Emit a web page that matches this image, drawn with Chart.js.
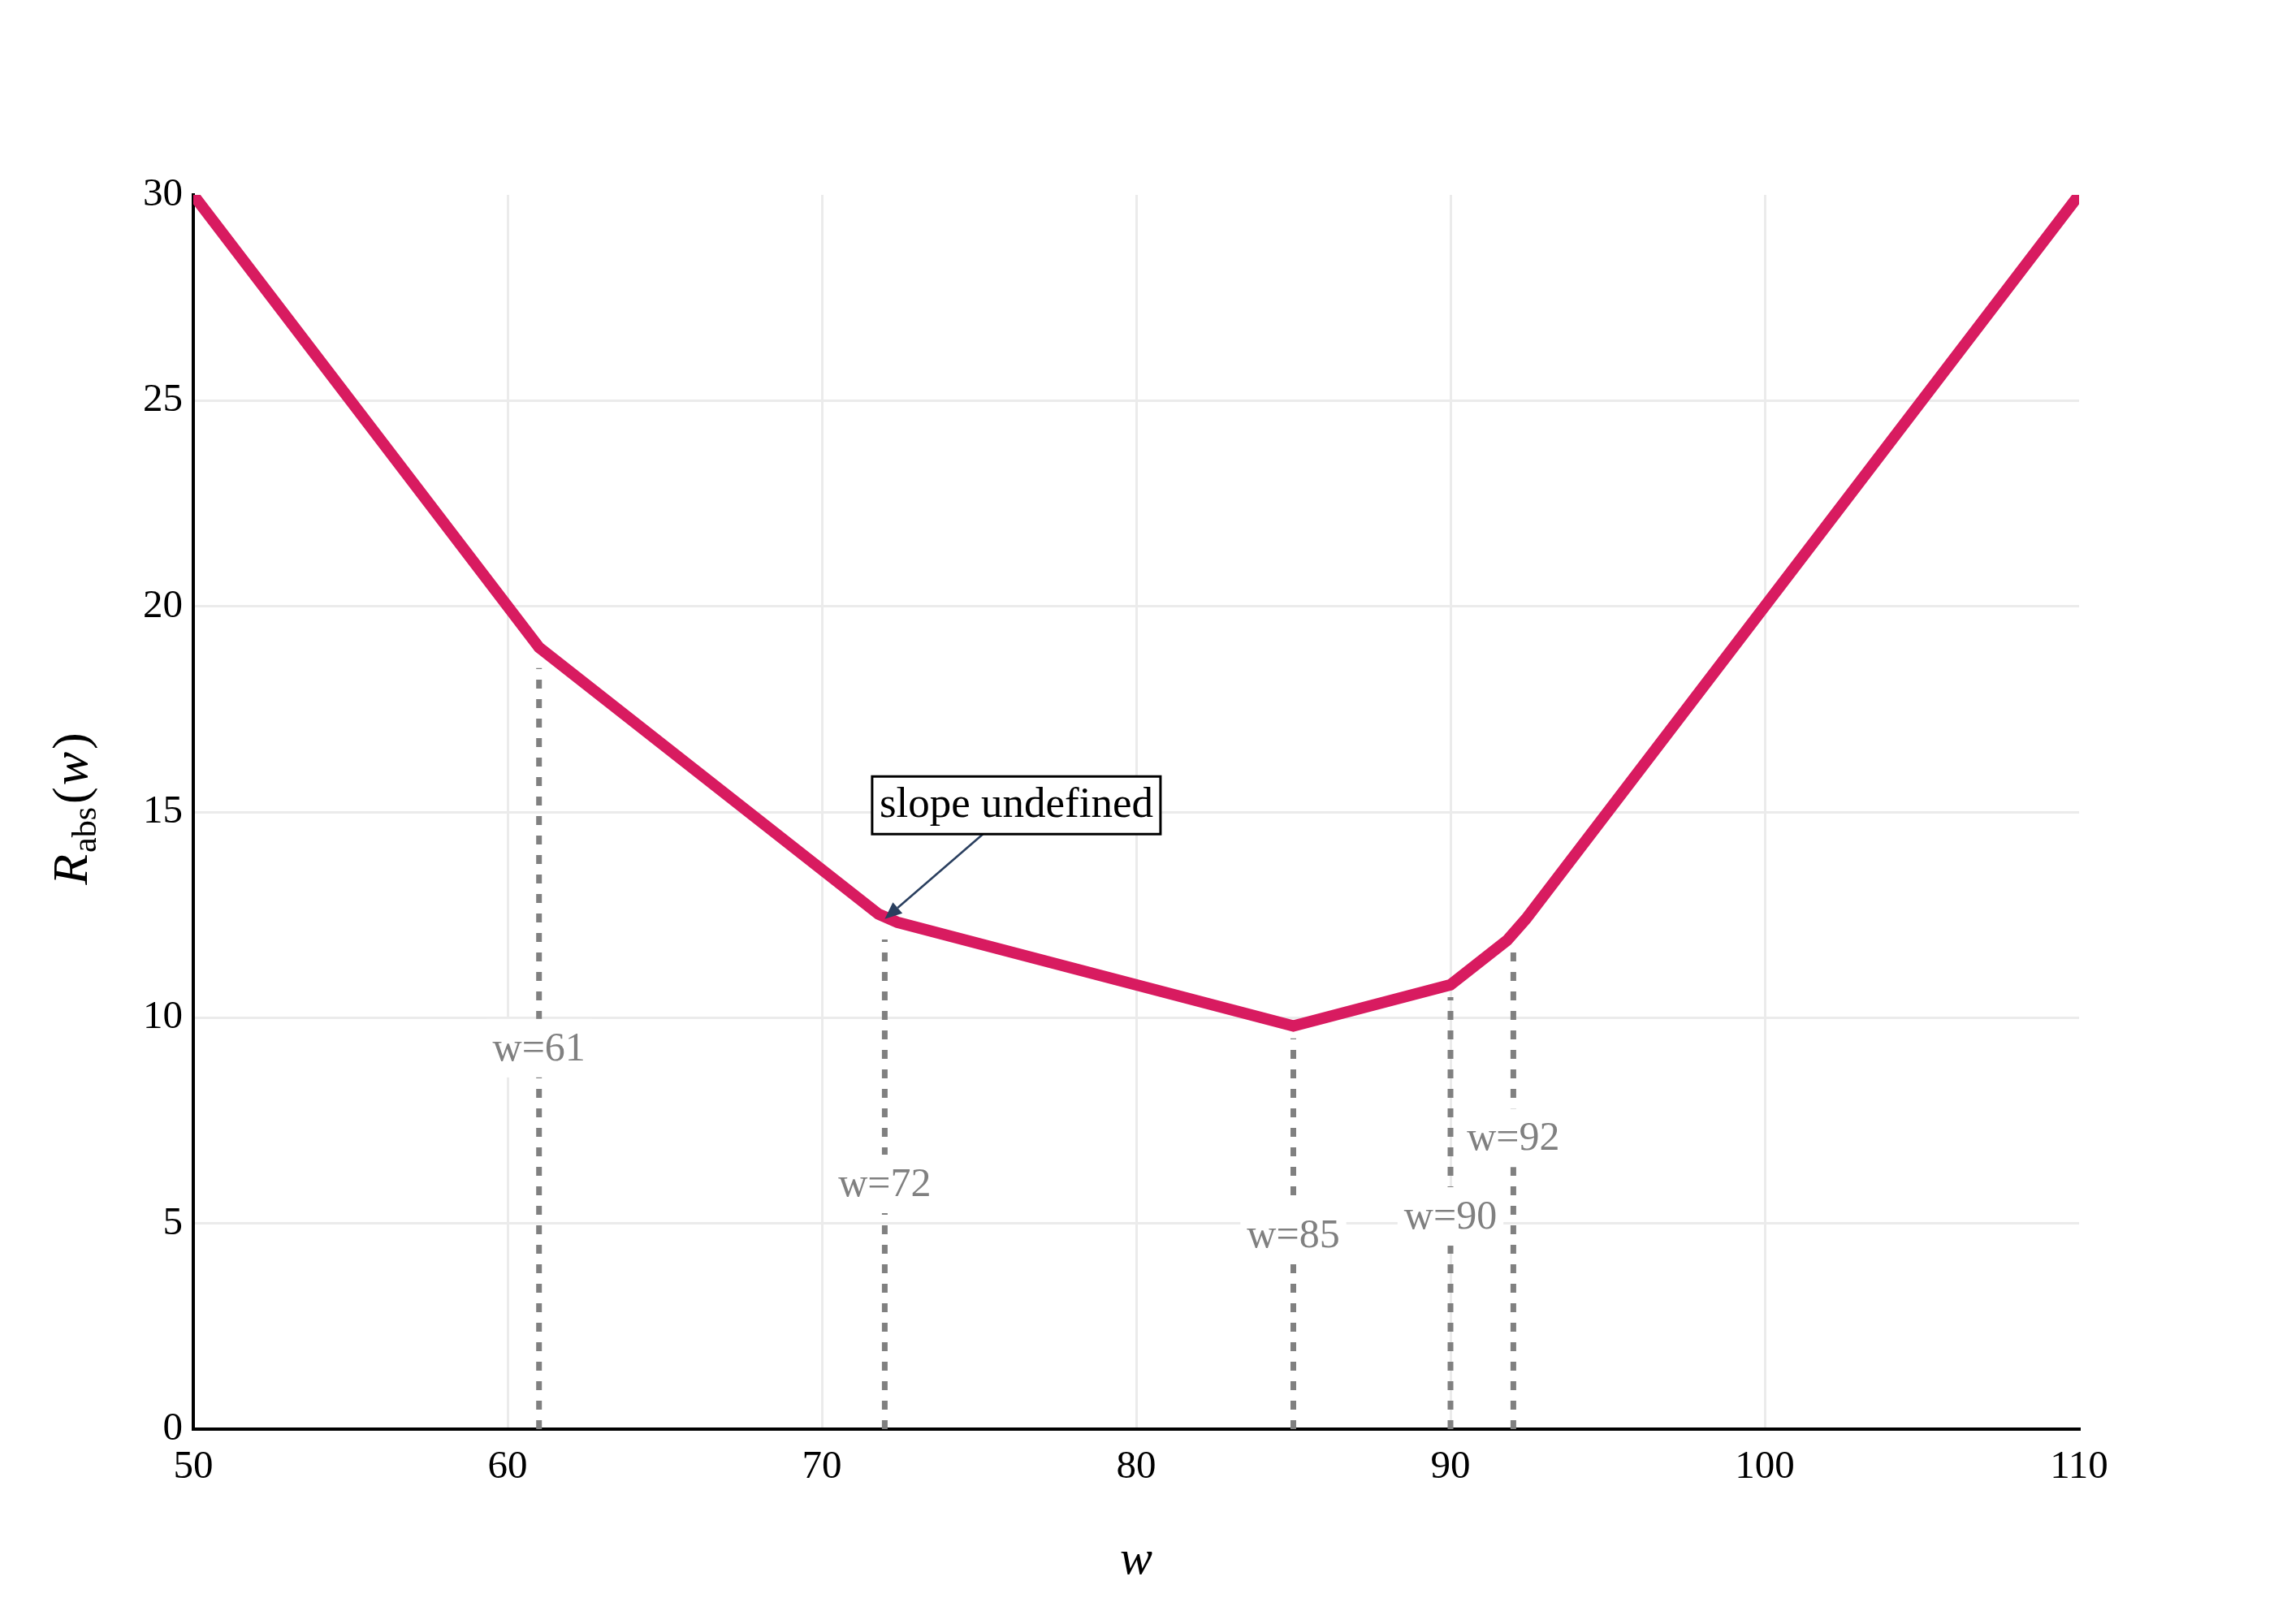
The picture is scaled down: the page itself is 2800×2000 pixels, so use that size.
<!DOCTYPE html>
<html>
<head>
<meta charset="utf-8">
<script src="https://cdn.jsdelivr.net/npm/chart.js@4.4.1/dist/chart.umd.min.js"></script>
<style>
  html, body { margin: 0; padding: 0; background: #ffffff; }
  #wrap { width: 2800px; height: 2000px; }
</style>
</head>
<body>
<div id="wrap"><canvas id="c" width="2800" height="2000"></canvas></div>
<script>
// ---- data ----
const curveW = [50, 61, 71.8, 72.4, 85, 90, 91.8, 92.4, 110];
const curveR = [30, 19, 12.52, 12.32, 9.8, 10.8, 11.88, 12.4, 30];

const markerW = [61, 72, 85, 90, 92];
const markerTop = [18.5, 11.9, 9.5, 10.5, 11.6];
const markerLabelY = [9.26, 5.96, 4.72, 5.17, 7.08];
const markerLabels = ["w=61", "w=72", "w=85", "w=90", "w=92"];

const xTicks = [50, 60, 70, 80, 90, 100, 110];
const yTicks = [0, 5, 10, 15, 20, 25, 30];

const noteText = "slope undefined";
const noteW = 72;
const noteR = 12.4;

const SERIF = "'Liberation Serif', 'DejaVu Serif', serif";

const curvePoints = curveW.map((w, i) => ({ x: w, y: curveR[i] }));
const markerDatasets = markerW.map((w, i) => ({
  data: [{ x: w, y: 0 }, { x: w, y: markerTop[i] }],
  borderColor: '#808080',
  borderWidth: 7,
  borderDash: [11, 13],
  pointRadius: 0,
  fill: false,
  tension: 0,
  clip: false
}));

const overlayPlugin = {
  id: 'overlay',
  afterDatasetsDraw(chart) {
    const ctx = chart.ctx;
    const xs = chart.scales.x, ys = chart.scales.y;
    ctx.save();
    // marker labels with white background
    ctx.font = "50px " + SERIF;
    ctx.textAlign = 'center';
    ctx.textBaseline = 'middle';
    markerW.forEach((w, i) => {
      const px = xs.getPixelForValue(w);
      const py = ys.getPixelForValue(markerLabelY[i]);
      const tw = ctx.measureText(markerLabels[i]).width;
      const bw = tw + 16, bh = 72;
      ctx.fillStyle = '#ffffff';
      ctx.fillRect(px - bw / 2, py - bh / 2, bw, bh);
      ctx.fillStyle = '#808080';
      ctx.fillText(markerLabels[i], px, py + 2);
    });

    // annotation with arrow
    const tipX = xs.getPixelForValue(noteW);
    const tipY = ys.getPixelForValue(noteR);
    const ax = 162, ay = -140;
    const cx = tipX + ax, cy = tipY + ay;
    ctx.font = "53px " + SERIF;
    const tw = ctx.measureText(noteText).width;
    const bw = tw + 18, bh = 71;
    const t = (bh / 2) / (-ay);
    const sx = cx - ax * t, sy = cy - ay * t;
    const dx = tipX - sx, dy = tipY - sy;
    const len = Math.hypot(dx, dy);
    const ux = dx / len, uy = dy / len;
    const headLen = 21, headHalf = 9;
    const bx = tipX - ux * headLen, by = tipY - uy * headLen;
    ctx.strokeStyle = '#2a3f5f';
    ctx.lineWidth = 2.6;
    ctx.beginPath();
    ctx.moveTo(sx, sy);
    ctx.lineTo(bx, by);
    ctx.stroke();
    ctx.fillStyle = '#2a3f5f';
    ctx.beginPath();
    ctx.moveTo(tipX, tipY);
    ctx.lineTo(bx - uy * headHalf, by + ux * headHalf);
    ctx.lineTo(bx + uy * headHalf, by - ux * headHalf);
    ctx.closePath();
    ctx.fill();
    ctx.fillStyle = '#ffffff';
    ctx.fillRect(cx - bw / 2, cy - bh / 2, bw, bh);
    ctx.strokeStyle = '#000000';
    ctx.lineWidth = 3;
    ctx.strokeRect(cx - bw / 2, cy - bh / 2, bw, bh);
    ctx.fillStyle = '#000000';
    ctx.textAlign = 'center';
    ctx.textBaseline = 'alphabetic';
    ctx.fillText(noteText, cx, cy + 14);

    // x axis title
    const ca = chart.chartArea;
    ctx.font = "italic 60px " + SERIF;
    ctx.fillText('w', (ca.left + ca.right) / 2, 1938);

    // y axis title: R_abs(w), rotated
    const big = "62px " + SERIF, bigI = "italic 62px " + SERIF, sub = "42px " + SERIF;
    const parts = [
      { t: 'R', f: bigI, dy: 0, gap: 2 },
      { t: 'abs', f: sub, dy: 11, gap: 4 },
      { t: '(', f: big, dy: 0, gap: 2 },
      { t: 'w', f: bigI, dy: 0, gap: 3 },
      { t: ')', f: big, dy: 0, gap: 0 }
    ];
    let total = 0;
    parts.forEach(p => { ctx.font = p.f; p.w = ctx.measureText(p.t).width; total += p.w + p.gap; });
    const centerY = (ca.top + ca.bottom) / 2 - 4;
    ctx.translate(107, centerY + total / 2);
    ctx.rotate(-Math.PI / 2);
    ctx.textAlign = 'left';
    let x = 0;
    parts.forEach(p => {
      ctx.font = p.f;
      ctx.fillText(p.t, x, p.dy);
      x += p.w + p.gap;
    });
    ctx.restore();
  }
};

new Chart(document.getElementById('c'), {
  type: 'line',
  data: {
    datasets: [
      {
        data: curvePoints,
        borderColor: '#d81b60',
        borderWidth: 14,
        pointRadius: 0,
        fill: false,
        tension: 0,
        clip: 0
      },
      ...markerDatasets
    ]
  },
  options: {
    responsive: false,
    devicePixelRatio: 1,
    animation: false,
    layout: { padding: { left: 0, right: 240, top: 240, bottom: 0 } },
    plugins: { legend: { display: false }, tooltip: { enabled: false }, title: { display: false } },
    scales: {
      x: {
        type: 'linear',
        min: 50, max: 110,
        afterBuildTicks: s => { s.ticks = xTicks.map(v => ({ value: v })); },
        afterFit: s => { s.height = 240; },
        ticks: {
          font: { family: SERIF, size: 49 },
          color: '#000000',
          padding: 18,
          maxRotation: 0,
          autoSkip: false
        },
        grid: {
          color: c => (c.tick && (c.tick.value === 110 || c.tick.value === 50)) ? 'rgba(0,0,0,0)' : '#ebebeb',
          lineWidth: 3,
          drawTicks: false
        },
        border: { color: '#000000', width: 4 }
      },
      y: {
        type: 'linear',
        min: 0, max: 30,
        afterBuildTicks: s => { s.ticks = yTicks.map(v => ({ value: v })); },
        afterFit: s => { s.width = 238; },
        ticks: {
          font: { family: SERIF, size: 49 },
          color: '#000000',
          padding: 13
        },
        grid: {
          color: c => (c.tick && (c.tick.value === 30 || c.tick.value === 0)) ? 'rgba(0,0,0,0)' : '#ebebeb',
          lineWidth: 3,
          drawTicks: false
        },
        border: { color: '#000000', width: 4 }
      }
    }
  },
  plugins: [overlayPlugin]
});
</script>
</body>
</html>
